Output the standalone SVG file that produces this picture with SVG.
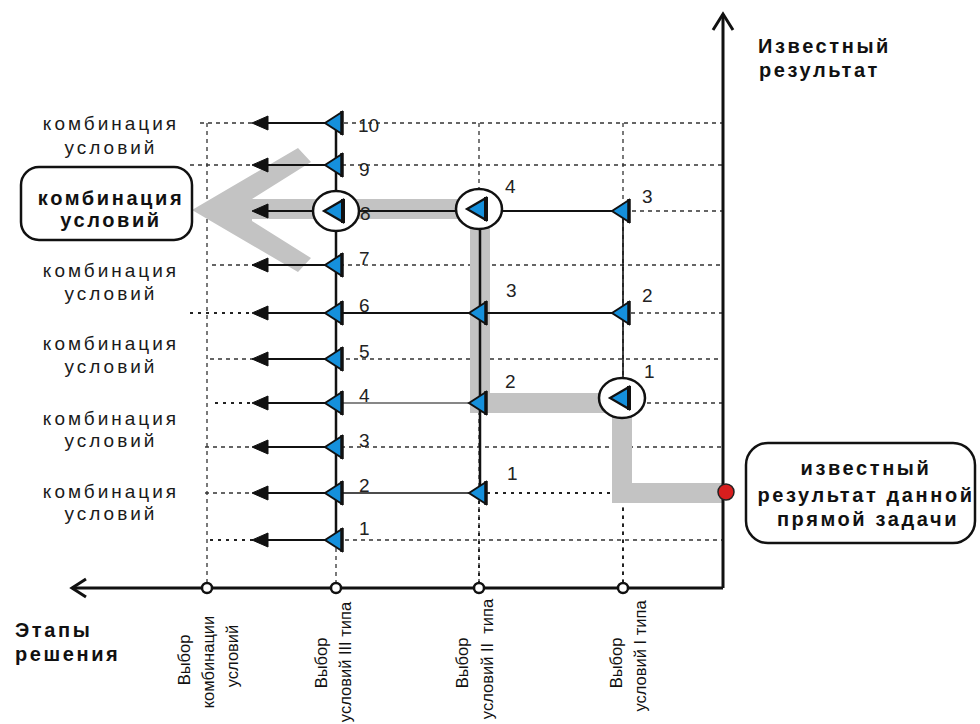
<svg xmlns="http://www.w3.org/2000/svg" xmlns:xlink="http://www.w3.org/1999/xlink" width="980" height="724" viewBox="0 0 980 724">
  <style>
    .lbl { font-family: "Liberation Sans", Arial, sans-serif; font-size: 19px; letter-spacing: 3px; fill: #1a1a1a; text-anchor: middle; }
    .bold { font-family: "Liberation Sans", Arial, sans-serif; font-size: 20px; font-weight: bold; letter-spacing: 2.6px; fill: #111; }
    .num { font-family: "Liberation Sans", Arial, sans-serif; font-size: 19px; fill: #222; }
    .rot { font-family: "Liberation Sans", Arial, sans-serif; font-size: 16.5px; fill: #111; text-anchor: middle; }
    .grid { stroke: #333; stroke-width: 1.3; stroke-dasharray: 4 4; fill: none; }
    .dots { stroke: #222; stroke-width: 2; stroke-dasharray: 3 5; fill: none; }
    .solid { stroke: #111; fill: none; }
    .box { fill: #fff; stroke: #111; stroke-width: 2.5; }
    .ring { fill: #fff; stroke: #111; stroke-width: 2.5; }
    .axisdot { fill: #fff; stroke: #111; stroke-width: 2.5; }
  </style>
  <defs>
    <!-- small left-pointing blue marker -->
    <g id="tri">
      <polygon points="-11,0 6,-11 6,11" fill="#1590dc" stroke="#111" stroke-width="2" stroke-linejoin="miter"/>
      <line x1="6" y1="-12" x2="6" y2="12" stroke="#111" stroke-width="3.5"/>
    </g>
    <!-- circled marker -->
    <g id="node">
      <ellipse cx="0" cy="0" rx="23" ry="20" class="ring"/>
      <polygon points="-12,0 7,-11 7,11" fill="#1590dc" stroke="#111" stroke-width="2.2"/>
      <line x1="7" y1="-12" x2="7" y2="12" stroke="#111" stroke-width="4"/>
    </g>
    <!-- outgoing arrow head -->
    <polygon id="head" points="-14,0 2,-7 2,7" fill="#111"/>
  </defs>

  <!-- grid -->
  <g id="grid">
    <line class="grid" x1="207" y1="123" x2="207" y2="583"/>
    <line class="grid" x1="479" y1="123" x2="479" y2="583"/>
    <line class="grid" x1="623" y1="123" x2="623" y2="583"/>
    <line class="grid" x1="336" y1="540" x2="336" y2="583"/>
    <line class="grid" x1="200" y1="123" x2="723" y2="123"/>
    <line class="grid" x1="190" y1="165" x2="723" y2="165"/>
    <line class="grid" x1="200" y1="211" x2="723" y2="211"/>
    <line class="grid" x1="212" y1="265" x2="723" y2="265"/>
    <line class="dots" x1="190" y1="313" x2="336" y2="313"/>
    <line class="grid" x1="623" y1="313" x2="723" y2="313"/>
    <line class="grid" x1="210" y1="359" x2="723" y2="359"/>
    <line class="dots" x1="215" y1="403" x2="336" y2="403"/>
    <line class="grid" x1="623" y1="403" x2="723" y2="403"/>
    <line class="grid" x1="205" y1="447" x2="723" y2="447"/>
    <line class="grid" x1="205" y1="493" x2="336" y2="493"/>
    <line class="dots" x1="479" y1="493" x2="723" y2="493"/>
    <line class="dots" x1="210" y1="540" x2="336" y2="540"/>
    <line class="grid" x1="345" y1="540" x2="723" y2="540"/>
    <line class="dots" x1="623" y1="420" x2="623" y2="583"/>
    <line class="dots" x1="479" y1="493" x2="479" y2="583"/>
  </g>

  <!-- highlighted solution path -->
  <g id="path" fill="#c3c3c3">
    <path d="M 723 493 H 622 V 403 H 480 V 209 H 250" fill="none" stroke="#c3c3c3" stroke-width="20" stroke-linejoin="miter"/>
    <polygon points="192,210 298,148 311,162 252,199 252,221 311,258 298,272"/>
  </g>

  <!-- axes -->
  <g id="axes" class="solid">
    <line x1="723" y1="14" x2="723" y2="588" stroke-width="3"/>
    <polyline points="713,30 723,14 733,30" stroke-width="3"/>
    <line x1="72" y1="588" x2="723" y2="588" stroke-width="3"/>
    <polyline points="86,579 72,588 86,597" stroke-width="3"/>
    <circle class="axisdot" cx="207" cy="588" r="5"/>
    <circle class="axisdot" cx="336" cy="588" r="5"/>
    <circle class="axisdot" cx="479" cy="588" r="5"/>
    <circle class="axisdot" cx="623" cy="588" r="5"/>
  </g>

  <!-- connectors -->
  <g id="connectors" class="solid">
    <line x1="336" y1="123" x2="336" y2="540" stroke-width="2.5"/>
    <line x1="480" y1="210" x2="480" y2="493" stroke-width="2.5"/>
    <line x1="623" y1="211" x2="623" y2="385" stroke-width="1.6"/>
    <line x1="336" y1="211" x2="623" y2="211" stroke-width="1.8"/>
    <line x1="336" y1="313" x2="623" y2="313" stroke-width="2"/>
    <line x1="336" y1="403" x2="479" y2="403" stroke-width="1.2"/>
    <line x1="336" y1="493" x2="479" y2="493" stroke-width="1.6"/>
    <g stroke-width="2.2">
      <line x1="330" y1="123" x2="262" y2="123"/>
      <line x1="330" y1="165" x2="262" y2="165"/>
      <line x1="320" y1="211" x2="262" y2="211"/>
      <line x1="330" y1="265" x2="262" y2="265"/>
      <line x1="330" y1="313" x2="262" y2="313"/>
      <line x1="330" y1="359" x2="262" y2="359"/>
      <line x1="330" y1="403" x2="262" y2="403"/>
      <line x1="330" y1="447" x2="262" y2="447"/>
      <line x1="330" y1="493" x2="262" y2="493"/>
      <line x1="330" y1="540" x2="262" y2="540"/>
    </g>
    <use xlink:href="#head" x="266" y="123"/>
    <use xlink:href="#head" x="266" y="165"/>
    <use xlink:href="#head" x="266" y="211"/>
    <use xlink:href="#head" x="266" y="265"/>
    <use xlink:href="#head" x="266" y="313"/>
    <use xlink:href="#head" x="266" y="359"/>
    <use xlink:href="#head" x="266" y="403"/>
    <use xlink:href="#head" x="266" y="447"/>
    <use xlink:href="#head" x="266" y="493"/>
    <use xlink:href="#head" x="266" y="540"/>
  </g>

  <!-- stage III markers -->
  <g id="stage3">
    <use xlink:href="#tri" x="336" y="123"/>
    <use xlink:href="#tri" x="336" y="165"/>
    <use xlink:href="#node" x="336" y="211"/>
    <use xlink:href="#tri" x="336" y="265"/>
    <use xlink:href="#tri" x="336" y="313"/>
    <use xlink:href="#tri" x="336" y="359"/>
    <use xlink:href="#tri" x="336" y="403"/>
    <use xlink:href="#tri" x="336" y="447"/>
    <use xlink:href="#tri" x="336" y="493"/>
    <use xlink:href="#tri" x="336" y="540"/>
    <text class="num" x="358" y="132">10</text>
    <text class="num" x="359" y="176">9</text>
    <text class="num" x="360" y="220">8</text>
    <text class="num" x="359" y="265">7</text>
    <text class="num" x="359" y="312">6</text>
    <text class="num" x="359" y="358">5</text>
    <text class="num" x="359" y="402">4</text>
    <text class="num" x="359" y="447">3</text>
    <text class="num" x="359" y="492">2</text>
    <text class="num" x="359" y="535">1</text>
  </g>

  <!-- stage II markers -->
  <g id="stage2">
    <use xlink:href="#node" x="479" y="209"/>
    <use xlink:href="#tri" x="480" y="313"/>
    <use xlink:href="#tri" x="480" y="403"/>
    <use xlink:href="#tri" x="480" y="493"/>
    <text class="num" x="505" y="193">4</text>
    <text class="num" x="506" y="297">3</text>
    <text class="num" x="505" y="388">2</text>
    <text class="num" x="507" y="480">1</text>
  </g>

  <!-- stage I markers -->
  <g id="stage1">
    <use xlink:href="#tri" x="623" y="211"/>
    <use xlink:href="#tri" x="623" y="313"/>
    <use xlink:href="#node" x="622" y="398"/>
    <text class="num" x="642" y="203">3</text>
    <text class="num" x="642" y="302">2</text>
    <text class="num" x="644" y="378">1</text>
  </g>

  <!-- known result -->
  <g id="result">
    <circle cx="726" cy="492" r="8" fill="#d81e1e" stroke="#222" stroke-width="1.5"/>
    <rect class="box" x="746" y="443" width="229" height="100" rx="22"/>
    <text class="bold" x="866" y="475" text-anchor="middle">известный</text>
    <text class="bold" x="866" y="502" text-anchor="middle">результат данной</text>
    <text class="bold" x="868" y="526" text-anchor="middle">прямой задачи</text>
  </g>

  <!-- selected combination -->
  <g id="selected">
    <rect class="box" x="21" y="167" width="171" height="73" rx="18"/>
    <text class="bold" x="111" y="205" text-anchor="middle">комбинация</text>
    <text class="bold" x="111" y="227" text-anchor="middle">условий</text>
  </g>

  <!-- other combinations -->
  <g id="combinations">
    <text class="lbl" x="111" y="130">комбинация</text>
    <text class="lbl" x="111" y="154">условий</text>
    <text class="lbl" x="111" y="277">комбинация</text>
    <text class="lbl" x="111" y="300">условий</text>
    <text class="lbl" x="111" y="350">комбинация</text>
    <text class="lbl" x="111" y="373">условий</text>
    <text class="lbl" x="111" y="425">комбинация</text>
    <text class="lbl" x="111" y="447">условий</text>
    <text class="lbl" x="111" y="498">комбинация</text>
    <text class="lbl" x="111" y="520">условий</text>
  </g>

  <!-- axis titles -->
  <g id="titles">
    <text class="bold" x="758" y="53">Известный</text>
    <text class="bold" x="759" y="77">результат</text>
    <text class="bold" x="15" y="637">Этапы</text>
    <text class="bold" x="15" y="661">решения</text>
  </g>

  <!-- stage captions -->
  <g id="stages">
    <text class="rot" transform="translate(190,660) rotate(-90)">Выбор</text>
    <text class="rot" transform="translate(214,662) rotate(-90)">комбинации</text>
    <text class="rot" transform="translate(238,656) rotate(-90)">условий</text>
    <text class="rot" transform="translate(327,663) rotate(-90)">Выбор</text>
    <text class="rot" transform="translate(351,662) rotate(-90)">условий III типа</text>
    <text class="rot" transform="translate(468,663) rotate(-90)">Выбор</text>
    <text class="rot" transform="translate(493,659) rotate(-90)" xml:space="preserve">условий II  типа</text>
    <text class="rot" transform="translate(622,663) rotate(-90)">Выбор</text>
    <text class="rot" transform="translate(646,656) rotate(-90)">условий I типа</text>
  </g>
</svg>
